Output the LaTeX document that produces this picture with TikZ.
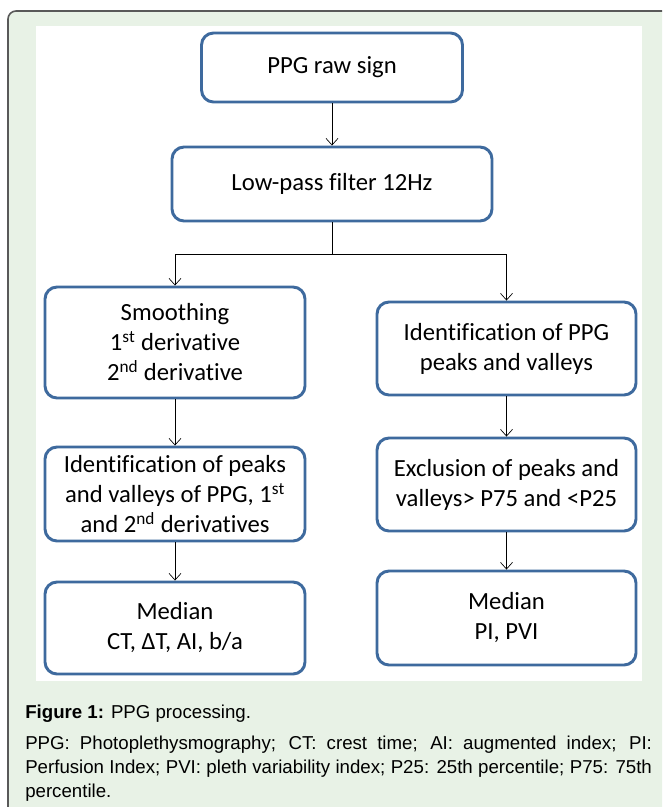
\documentclass[tikz,border=0pt]{standalone}
\usepackage{fontspec}
\newfontfamily\boxfont[Ligatures=NoCommon]{Carlito}
\newfontfamily\capfont{Liberation Sans}
\newcommand\capsetup{\capfont\fontsize{14}{18}\selectfont\hyphenpenalty=10000\relax}
\usetikzlibrary{arrows.meta}
\definecolor{boxblue}{HTML}{3E6A9E}
\definecolor{panelgreen}{HTML}{E8F2E6}
\definecolor{framegray}{HTML}{595959}

\begin{document}
\begin{tikzpicture}[x=0.75pt,y=-0.75pt,
	stepbox/.style={draw=boxblue, line width=2.2pt, rounded corners=9pt, fill=white, align=center, inner sep=0pt, font=\boxfont\fontsize{18.5}{22.5}\selectfont},
	arr/.style={-{Straight Barb[length=5pt,width=9pt]}, line width=0.5pt},
	captext/.style={anchor=base west, inner sep=0pt, font=\capsetup}]
	\useasboundingbox (0,0) rectangle (662,807);
	\clip (0,0) rectangle (662,807);
	% frame and white panel
	\draw[framegray, fill=panelgreen, line width=1.2pt, rounded corners=6pt] (8,11) rectangle (700,850);
	\fill[white] (36,26) rectangle (642,681);
	
	\node [stepbox, minimum width=195.75pt, minimum height=51.75pt] (raw) at (332,67.5) {PPG raw sign};
	\node [stepbox, minimum width=240pt, minimum height=55.5pt] (lp) at (332,184) {Low-pass filter 12Hz};
	% left branch
	\node [stepbox, minimum width=195pt, minimum height=83.25pt] (smooth) at (175,342.5)
		{Smoothing\\1\textsuperscript{st} derivative\\2\textsuperscript{nd} derivative};
	\node [stepbox, minimum width=195pt, minimum height=70.5pt] (idl) at (175,494)
		{Identification of peaks\\and valleys of PPG, 1\textsuperscript{st}\\and 2\textsuperscript{nd} derivatives};
	\node [stepbox, minimum width=195pt, minimum height=69pt] (medl) at (175,628)
		{Median\\CT, ΔT, AI, b/a};
	% right branch
	\node [stepbox, minimum width=194.25pt, minimum height=69.75pt] (idr) at (506.5,348.5)
		{Identification of PPG\\peaks and valleys};
	\node [stepbox, minimum width=194.25pt, minimum height=69.75pt] (excl) at (506.5,484.5)
		{Exclusion of peaks and\\valleys> P75 and <P25};
	\node [stepbox, minimum width=194.25pt, minimum height=70.5pt] (medr) at (506.5,618)
		{Median\\PI, PVI};
	
	\coordinate (fork) at ([yshift=-24pt]lp.south);
	\draw [arr] (raw) -- (lp);
	\draw (lp.south) -- (fork);
	\draw [arr] (fork) -| (smooth.north);
	\draw [arr] (fork) -| (idr.north);
	\draw [arr] (smooth) -- (idl);
	\draw [arr] (idl) -- (medl);
	\draw [arr] (idr) -- (excl);
	\draw [arr] (excl) -- (medr);
	
	% caption
	\node [captext] (fig) at (25,718) {\textbf{Figure 1:} PPG processing.};
	\node [captext, text width=470pt, align=justify] (notes) at (25,749)
		{PPG: Photoplethysmography; CT: crest time; AI: augmented index; PI: Perfusion Index; PVI: pleth variability index; P25: 25th percentile; P75: 75th percentile.};
\end{tikzpicture}
\end{document}
